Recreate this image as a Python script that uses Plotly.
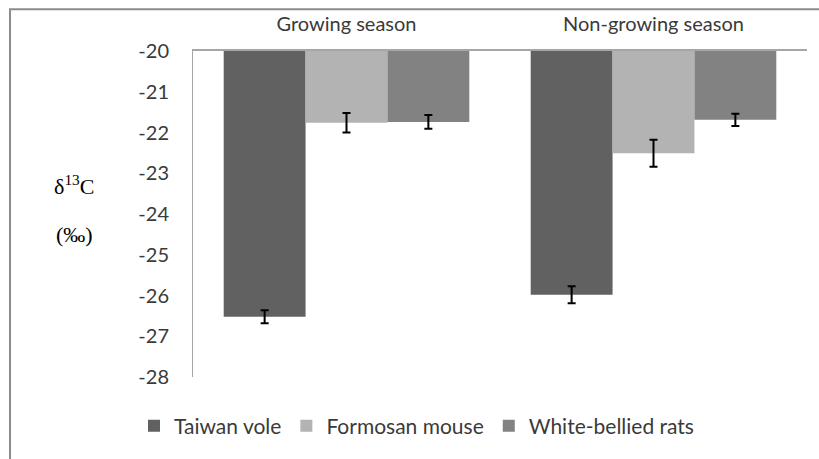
import plotly.graph_objects as go

# Seasonal carbon isotope values (δ13C, ‰) per species, mean ± SE
seasons = ["Growing season", "Non-growing season"]
species = ["Taiwan vole", "Formosan mouse", "White-bellied rats"]
taiwan_vole = [-26.52, -25.98]
formosan_mouse = [-21.76, -22.51]
white_bellied_rats = [-21.74, -21.69]
taiwan_vole_se = [0.16, 0.21]
formosan_mouse_se = [0.24, 0.33]
white_bellied_rats_se = [0.17, 0.15]
y_ticks = [-20, -21, -22, -23, -24, -25, -26, -27, -28]

AXIS_TOP = -20  # bars hang down from the -20 baseline

series = [
    ("Taiwan vole", taiwan_vole, taiwan_vole_se, "#616161"),
    ("Formosan mouse", formosan_mouse, formosan_mouse_se, "#b3b3b3"),
    ("White-bellied rats", white_bellied_rats, white_bellied_rats_se, "#828282"),
]

FONT = "Lato"
TXT = "#3a3a3a"

fig = go.Figure()
for name, vals, se, color in series:
    fig.add_trace(go.Bar(
        name=name,
        x=seasons,
        base=[AXIS_TOP] * len(vals),
        y=[v - AXIS_TOP for v in vals],
        marker=dict(color=color, line=dict(width=0)),
        error_y=dict(type="data", array=se, color="black", thickness=2, width=4),
    ))

W, H = 819, 459
L, R, T, B = 193, 12, 51, 76
pw, ph = W - L - R, H - T - B

def px_x(x):
    return (x - L) / pw

def px_y(y):
    return 1 - (y - T) / ph

fig.update_layout(
    width=W, height=H,
    margin=dict(l=L, r=R, t=T, b=B),
    paper_bgcolor="white", plot_bgcolor="white",
    barmode="group", bargap=0.2, bargroupgap=0,
    font=dict(family=FONT, size=20, color=TXT),
    showlegend=True,
    legend=dict(
        orientation="h", x=px_x(134), y=px_y(433), xanchor="left", yanchor="middle",
        font=dict(family=FONT, size=21, color=TXT),
        traceorder="normal", itemwidth=30,
    ),
    xaxis=dict(
        type="category", side="top", showgrid=False, ticks="",
        showline=True, linecolor="#a6a6a6", linewidth=1.5,
        tickfont=dict(family=FONT, size=20, color=TXT),
        ticklabelstandoff=10,
    ),
    yaxis=dict(
        range=[-28, -20], tickvals=y_ticks, ticktext=[str(v) for v in y_ticks],
        showgrid=False, zeroline=False, ticks="",
        showline=True, linecolor="#a6a6a6", linewidth=1,
        tickfont=dict(family=FONT, size=20, color=TXT),
        ticklabelstandoff=19,
    ),
    shapes=[dict(
        type="rect", xref="paper", yref="paper",
        x0=px_x(10), x1=px_x(830), y0=px_y(470), y1=px_y(8.5),
        line=dict(color="#8c8c8c", width=2), fillcolor="rgba(0,0,0,0)", layer="below",
    )],
    annotations=[
        dict(text="δ<sup>13</sup>C", xref="paper", yref="paper",
             x=px_x(74), y=px_y(187), xanchor="center", yanchor="middle",
             showarrow=False, font=dict(family="Liberation Serif", size=22, color="black")),
        dict(text="(‰)", xref="paper", yref="paper",
             x=px_x(74), y=px_y(238), xanchor="center", yanchor="middle",
             showarrow=False, font=dict(family="Liberation Serif", size=22, color="black")),
    ],
)

fig.write_html("out.html")
